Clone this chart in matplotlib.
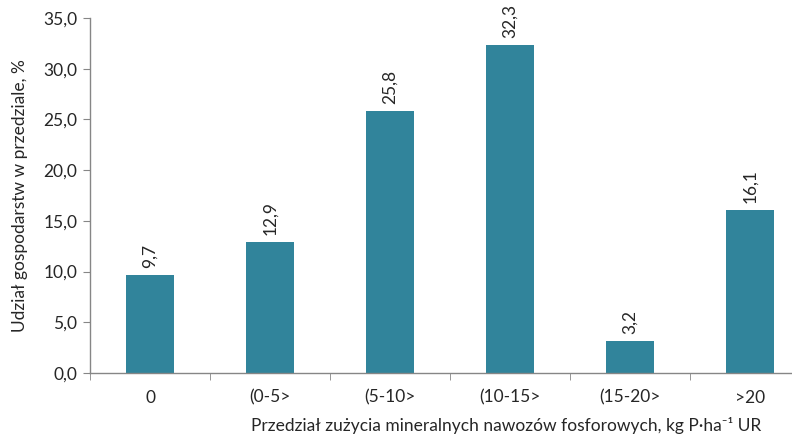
import matplotlib
matplotlib.use("Agg")
import matplotlib.pyplot as plt
from matplotlib.ticker import FixedLocator, FuncFormatter

categories = ["0", "(0-5>", "(5-10>", "(10-15>", "(15-20>", ">20"]
values = [9.7, 12.9, 25.8, 32.3, 3.2, 16.1]
y_ticks = [0, 5, 10, 15, 20, 25, 30, 35]

bar_color = "#31849B"
axis_color = "#868686"
text_color = "#262626"

plt.rcParams["font.family"] = ["Lato", "DejaVu Sans"]
FS = 12.5

fig = plt.figure(figsize=(7.92, 4.36), dpi=100)
ax = fig.add_axes([90 / 792, 1 - 373 / 436, 720 / 792, (373 - 18) / 436])

x = list(range(len(categories)))
bars = ax.bar(x, values, width=0.4, color=bar_color, zorder=2)

ax.set_xlim(-0.5, len(categories) - 0.5)
ax.set_ylim(0, 35)

def fmt(v):
    return f"{v:.1f}".replace(".", ",")

for xi, v in zip(x, values):
    ax.annotate(fmt(v), (xi, v), xytext=(0, 5), textcoords="offset points",
                rotation=90, ha="center", va="bottom", fontsize=FS,
                color=text_color)

ax.yaxis.set_major_locator(FixedLocator(y_ticks))
ax.yaxis.set_major_formatter(FuncFormatter(lambda v, p: fmt(v)))

# category labels centred, tick marks at category boundaries
ax.set_xticks(x)
ax.set_xticklabels(categories)
ax.set_xticks([i + 0.5 for i in range(-1, len(categories))], minor=True)
ax.tick_params(axis="x", which="major", length=0, pad=12, labelsize=FS,
               labelcolor=text_color)
ax.tick_params(axis="x", which="minor", length=5, color=axis_color,
               direction="out")
ax.tick_params(axis="y", length=5, color=axis_color, direction="out",
               labelsize=FS, labelcolor=text_color, pad=4)

for s in ["top", "right"]:
    ax.spines[s].set_visible(False)
for s in ["left", "bottom"]:
    ax.spines[s].set_color(axis_color)
    ax.spines[s].set_linewidth(1)

ax.set_ylabel("Udział gospodarstw w przedziale, %", fontsize=FS,
              color=text_color)
ax.yaxis.set_label_coords(-(90 - 28) / 720, 0.5)
ax.set_xlabel("Przedział zużycia mineralnych nawozów fosforowych, kg P·ha⁻¹ UR",
              fontsize=FS, color=text_color)
ax.xaxis.set_label_coords((506 - 90) / 720, -(417 - 373) / 355)

fig.savefig("out.png", dpi=100)
